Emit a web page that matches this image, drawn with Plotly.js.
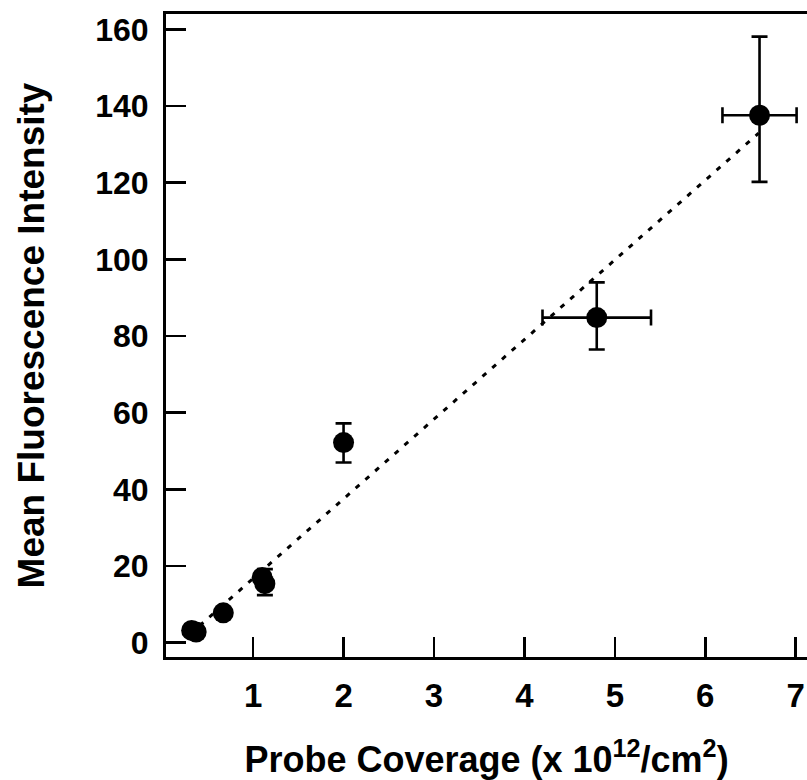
<!DOCTYPE html>
<html>
<head>
<meta charset="utf-8">
<script src="https://cdn.plot.ly/plotly-3.0.1.min.js"></script>
<style>html,body{margin:0;padding:0;background:#fff;}#chart{width:807px;height:780px;}</style>
</head>
<body>
<div id="chart"></div>
<script>
// Measured points: probe coverage (x 10^12 /cm^2) vs mean fluorescence intensity
const coverage = [0.32, 0.37, 0.67, 1.10, 1.13, 2.00, 4.80, 6.60];
const intensity = [3.2, 2.8, 7.8, 17.0, 15.4, 52.2, 84.8, 137.6];
const yErrPlus  = [0, 0, 0, 0, 3.8, 5.0, 9.2, 20.5];
const yErrMinus = [0, 0, 0, 0, 3.0, 5.2, 8.3, 17.4];
const xErrPlus  = [0, 0, 0, 0, 0, 0, 0.6, 0.41];
const xErrMinus = [0, 0, 0, 0, 0, 0, 0.6, 0.41];

// Linear fit (dotted line) endpoints
const fitX = [0.30, 6.59];
const fitY = [2.2, 132.9];

const xTicks = [1, 2, 3, 4, 5, 6, 7];
const yTicks = [0, 20, 40, 60, 80, 100, 120, 140, 160];

const font = {family: 'Liberation Sans, Arial, sans-serif', color: '#000', weight: 'bold'};

const traces = [
  {
    x: fitX, y: fitY, type: 'scatter', mode: 'lines',
    line: {color: '#000', width: 3, dash: '5px,8px'},
    hoverinfo: 'skip', showlegend: false
  },
  {
    x: coverage, y: intensity, type: 'scatter', mode: 'markers',
    marker: {color: '#000', size: 21, line: {width: 0}},
    error_y: {type: 'data', symmetric: false, array: yErrPlus, arrayminus: yErrMinus,
              color: '#000', thickness: 2.6, width: 8},
    error_x: {type: 'data', symmetric: false, array: xErrPlus, arrayminus: xErrMinus,
              color: '#000', thickness: 2.6, width: 8},
    showlegend: false
  }
];

const layout = {
  width: 807, height: 780,
  margin: {l: 166, r: 0, t: 14, b: 123},
  paper_bgcolor: '#fff', plot_bgcolor: '#fff',
  showlegend: false,
  xaxis: {
    range: [0.0365, 7.125],
    tickvals: xTicks, ticktext: xTicks.map(String),
    ticks: 'inside', ticklen: 20, tickwidth: 2.6, tickcolor: '#000',
    showline: true, linewidth: 3, linecolor: '#000', mirror: true,
    showgrid: false, zeroline: false,
    tickfont: Object.assign({size: 33}, font),
    ticklabelstandoff: 7,
    title: {text: 'Probe Coverage (x 10<sup>12</sup>/cm<sup>2</sup>)',
            font: Object.assign({size: 36}, font), standoff: 36},
    automargin: false
  },
  yaxis: {
    range: [-3.73, 164.0],
    tickvals: yTicks, ticktext: yTicks.map(String),
    ticks: 'inside', ticklen: 20, tickwidth: 2.6, tickcolor: '#000',
    showline: true, linewidth: 3, linecolor: '#000', mirror: false,
    showgrid: false, zeroline: false,
    tickfont: Object.assign({size: 32}, font),
    ticklabelstandoff: 8,
    title: {text: 'Mean Fluorescence Intensity',
            font: Object.assign({size: 37}, font), standoff: 40},
    automargin: false
  }
};

Plotly.newPlot('chart', traces, layout, {staticPlot: true, displayModeBar: false});
</script>
</body>
</html>
